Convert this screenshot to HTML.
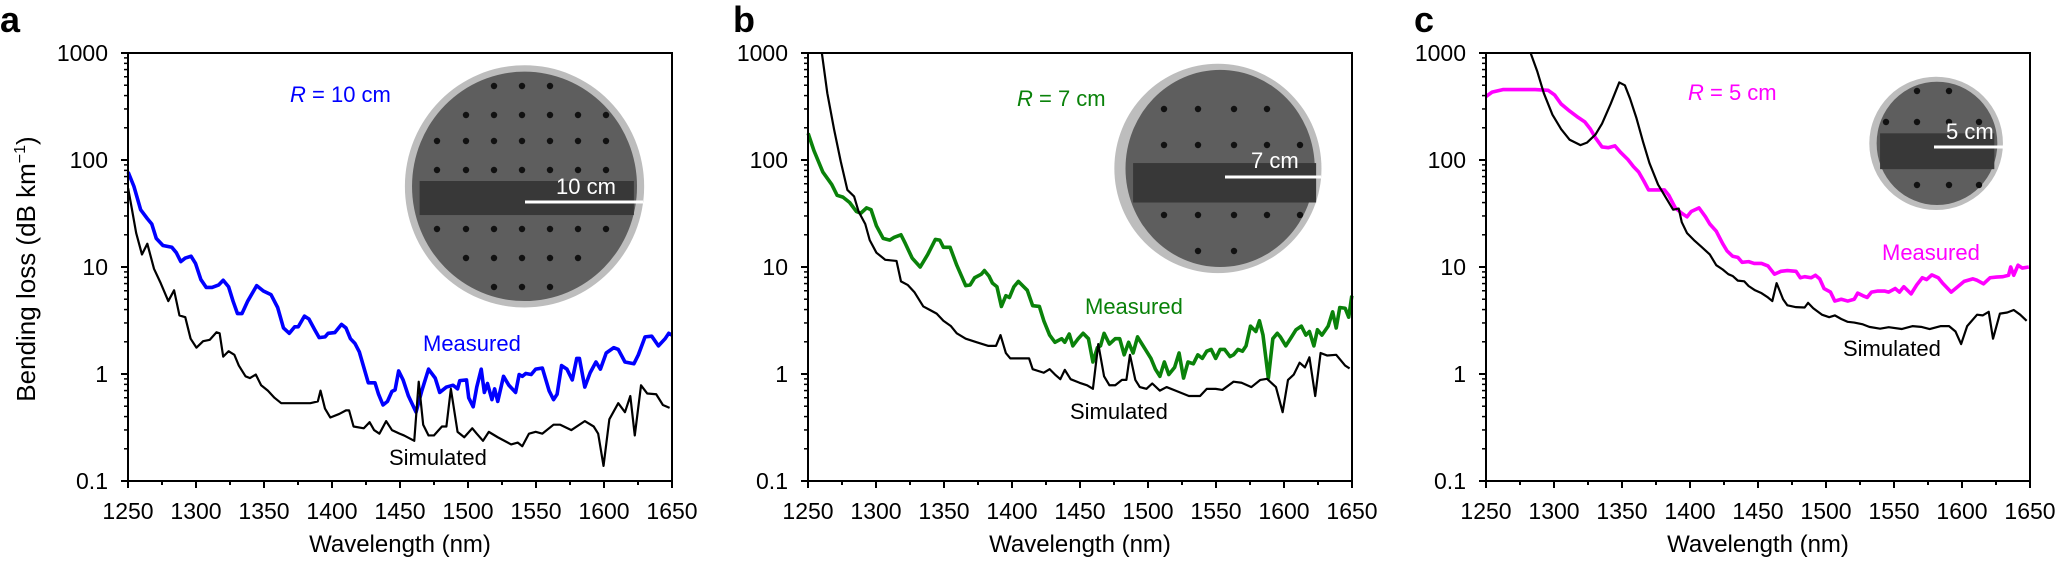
<!DOCTYPE html>
<html><head><meta charset="utf-8"><style>
html,body{margin:0;padding:0;background:#fff}
svg{display:block;font-family:"Liberation Sans",sans-serif}
.t{font-size:23px;fill:#000}
.ln{fill:none;stroke-width:2.2;vector-effect:non-scaling-stroke;stroke-linejoin:round}
.ms{fill:none;stroke-width:3.6;vector-effect:non-scaling-stroke;stroke-linejoin:round}
</style></head><body>
<svg id="s" width="2056" height="562" viewBox="0 0 2056 562" xmlns="http://www.w3.org/2000/svg">
<text x="0" y="32" font-size="36" font-weight="bold">a</text>
<text x="733" y="32" font-size="36" font-weight="bold">b</text>
<text x="1414" y="32" font-size="36" font-weight="bold">c</text>
<text transform="translate(35,269) rotate(-90)" text-anchor="middle" font-size="26">Bending loss (dB km<tspan dy="-10" font-size="16">−1</tspan><tspan dy="10">)</tspan></text>

<g transform="translate(0,0) scale(0.4464,0.3584)">
 <ellipse cx="1175" cy="520" rx="268" ry="338" fill="#bdbdbd"/>
 <ellipse cx="1175" cy="520" rx="252" ry="320" fill="#5e5e5e"/>
 <rect x="940" y="505" width="480" height="95" fill="#383838"/>
</g>
<g transform="translate(680,0) scale(0.4464,0.3584)">
 <ellipse cx="1205" cy="470" rx="232" ry="292" fill="#bdbdbd"/>
 <ellipse cx="1210" cy="470" rx="212" ry="275" fill="#5e5e5e"/>
 <rect x="1015" y="455" width="410" height="110" fill="#383838"/>
</g>
<g transform="translate(1380,0) scale(0.4311,0.3584)">
 <ellipse cx="1290" cy="400" rx="155" ry="186" fill="#bdbdbd"/>
 <ellipse cx="1292" cy="400" rx="140" ry="172" fill="#5e5e5e"/>
 <rect x="1160" y="372" width="265" height="100" fill="#383838"/>
</g>
<g id="dots"></g>
<line x1="525" y1="202" x2="643" y2="202" stroke="#fff" stroke-width="3"/>
<text x="556" y="194" font-size="22" fill="#fff">10 cm</text>
<line x1="1225" y1="177" x2="1321" y2="177" stroke="#fff" stroke-width="3"/>
<text x="1251" y="168" font-size="22" fill="#fff">7 cm</text>
<line x1="1934" y1="147" x2="2003" y2="147" stroke="#fff" stroke-width="3"/>
<text x="1946" y="139" font-size="22" fill="#fff">5 cm</text>

<g transform="scale(0.4464,0.3584)">
<polyline class="ms" stroke="#0000ff" points="287,480 300,520 315,585 330,610 340,625 350,665 365,685 385,690 395,705 405,730 415,720 428,715 438,735 450,780 462,802 475,802 490,795 500,782 512,800 522,840 532,875 542,875 555,840 575,797 590,812 607,822 622,858 635,915 648,930 660,912 668,912 682,882 692,890 705,920 715,942 728,940 735,930 750,928 765,905 775,915 785,945 795,958 805,982 815,1025 825,1068 840,1068 848,1100 858,1130 868,1120 878,1092 885,1088 893,1035 903,1060 915,1105 932,1150 945,1090 960,1030 975,1055 985,1095 1000,1080 1015,1075 1025,1085 1030,1062 1045,1060 1050,1110 1060,1135 1068,1080 1078,1030 1085,1095 1092,1070 1102,1115 1108,1085 1115,1120 1128,1050 1140,1075 1155,1095 1163,1045 1170,1050 1178,1042 1190,1045 1200,1030 1215,1027 1230,1090 1240,1115 1248,1100 1258,1020 1270,1030 1282,1060 1292,1000 1298,1000 1310,1080 1322,1040 1335,1010 1345,1030 1358,985 1375,970 1385,975 1400,1010 1420,1015 1430,990 1445,940 1460,938 1475,965 1490,945 1498,930 1505,935"/>
<polyline class="ln" stroke="#000" points="287,525 295,580 305,650 318,710 330,680 345,750 360,790 377,840 390,810 402,880 415,885 427,945 440,970 455,952 470,948 485,927 492,930 500,995 512,980 525,990 535,1020 550,1050 560,1055 573,1045 585,1075 600,1090 615,1110 630,1125 660,1125 695,1125 712,1120 718,1090 728,1140 740,1165 760,1155 775,1145 782,1145 792,1190 815,1195 828,1178 838,1200 850,1210 865,1175 878,1200 895,1210 905,1215 928,1230 938,1065 948,1185 960,1215 972,1215 990,1190 1000,1190 1010,1085 1025,1205 1040,1220 1058,1195 1068,1210 1082,1230 1095,1205 1115,1220 1145,1240 1160,1235 1170,1245 1185,1210 1200,1205 1215,1210 1240,1185 1255,1185 1280,1200 1310,1175 1330,1190 1340,1210 1352,1300 1365,1170 1385,1125 1400,1150 1412,1105 1422,1215 1436,1075 1450,1098 1470,1100 1485,1130 1500,1138"/>
</g>
<g transform="translate(680,0) scale(0.4464,0.3584)">
<polyline class="ms" stroke="#0a820a" points="287,372 300,420 320,480 340,515 352,545 365,550 380,565 395,590 405,595 418,580 428,585 440,630 455,665 470,670 480,662 495,655 505,680 520,720 538,745 555,710 572,668 582,670 590,690 605,690 620,740 640,797 650,795 660,775 675,765 682,755 692,770 700,790 710,800 720,855 730,825 738,830 748,800 758,785 770,800 778,810 790,853 805,855 815,895 828,935 840,955 855,945 862,955 872,932 880,965 892,945 903,930 915,945 925,1010 935,970 942,965 950,930 962,960 975,945 985,945 995,990 1005,955 1015,985 1025,940 1040,970 1055,1000 1065,1030 1075,1050 1085,1010 1095,1045 1108,1025 1118,985 1128,1055 1138,1010 1150,1015 1160,990 1170,1000 1180,980 1190,975 1200,1000 1210,975 1220,975 1232,995 1240,990 1250,975 1260,980 1268,965 1278,910 1290,925 1298,895 1306,935 1318,1055 1328,945 1338,930 1345,940 1357,965 1370,940 1380,920 1392,910 1402,935 1410,925 1420,965 1428,920 1438,935 1452,910 1462,870 1470,915 1478,858 1490,860 1498,885 1505,825"/>
<polyline class="ln" stroke="#000" points="318,150 330,260 345,360 360,450 375,530 390,548 400,590 415,625 425,670 440,705 460,725 485,728 495,785 510,795 525,815 545,855 560,865 575,875 590,895 607,910 620,930 640,945 665,955 690,965 708,965 718,935 730,985 740,1000 765,1000 782,1000 790,1030 815,1040 828,1030 840,1045 852,1058 862,1032 875,1058 895,1068 912,1075 925,1085 937,960 950,1050 962,1075 975,1075 990,1060 1000,1060 1008,990 1020,1060 1030,1080 1045,1085 1058,1070 1075,1090 1090,1080 1110,1090 1140,1105 1165,1105 1180,1085 1200,1085 1215,1088 1240,1065 1258,1068 1280,1080 1300,1060 1315,1057 1335,1080 1350,1150 1362,1060 1375,1045 1388,1012 1400,1025 1410,997 1423,1105 1435,985 1450,992 1470,990 1480,1005 1490,1020 1500,1028"/>
</g>
<g transform="translate(1380,0) scale(0.4311,0.3584)">
<polyline class="ms" stroke="#ff00ff" points="245,270 260,257 285,250 320,250 360,250 390,252 405,265 420,290 440,310 460,328 475,340 488,360 500,385 515,410 530,412 545,407 558,425 575,445 588,465 600,480 612,505 623,530 640,530 660,530 670,545 685,580 700,595 712,605 722,590 740,580 755,605 765,625 780,645 795,680 805,700 818,715 830,718 840,732 855,730 868,735 885,735 900,742 915,765 930,757 945,755 965,757 975,775 985,772 1000,775 1010,768 1020,778 1030,805 1045,815 1055,840 1070,835 1085,840 1100,835 1108,818 1120,825 1130,830 1140,815 1155,812 1170,812 1180,815 1195,805 1205,815 1215,800 1232,820 1245,795 1258,775 1268,780 1280,767 1295,775 1305,790 1325,815 1340,800 1355,785 1375,778 1385,782 1400,792 1415,775 1430,773 1445,772 1458,768 1463,745 1470,768 1480,740 1490,748 1505,745"/>
<polyline class="ln" stroke="#000" points="350,150 365,200 380,260 400,320 420,360 440,390 465,405 480,398 500,375 515,345 535,290 555,230 568,238 580,275 595,330 610,395 625,455 645,515 665,555 680,585 693,582 700,620 712,650 730,672 745,688 765,710 780,740 795,752 808,765 818,770 830,783 845,785 855,798 870,810 885,818 900,830 910,840 920,790 935,835 945,852 965,857 985,858 993,845 1005,860 1025,878 1042,885 1055,880 1070,890 1085,898 1100,900 1120,905 1135,912 1160,917 1180,913 1210,918 1235,910 1255,912 1275,918 1300,910 1320,910 1335,925 1348,960 1362,910 1385,878 1398,880 1412,870 1422,945 1438,875 1455,872 1470,865 1485,878 1500,895"/>
</g>

<g id="axes"></g>

<text x="290" y="102" font-size="22" fill="#0000ff"><tspan font-style="italic">R</tspan> = 10 cm</text>
<text x="423" y="351" font-size="22" fill="#0000ff">Measured</text>
<text x="389" y="465" font-size="22" fill="#000">Simulated</text>
<text x="1017" y="106" font-size="22" fill="#0a820a"><tspan font-style="italic">R</tspan> = 7 cm</text>
<text x="1085" y="314" font-size="22" fill="#0a820a">Measured</text>
<text x="1070" y="419" font-size="22" fill="#000">Simulated</text>
<text x="1688" y="100" font-size="22" fill="#ff00ff"><tspan font-style="italic">R</tspan> = 5 cm</text>
<text x="1882" y="260" font-size="22" fill="#ff00ff">Measured</text>
<text x="1843" y="356" font-size="22" fill="#000">Simulated</text>

<g class="t" text-anchor="end">
<text x="108" y="61">1000</text><text x="108" y="168">100</text><text x="108" y="275">10</text><text x="108" y="382">1</text><text x="108" y="489">0.1</text>
<text x="788" y="61">1000</text><text x="788" y="168">100</text><text x="788" y="275">10</text><text x="788" y="382">1</text><text x="788" y="489">0.1</text>
<text x="1466" y="61">1000</text><text x="1466" y="168">100</text><text x="1466" y="275">10</text><text x="1466" y="382">1</text><text x="1466" y="489">0.1</text>
</g>
<g class="t" text-anchor="middle">
<text x="128" y="519">1250</text><text x="196" y="519">1300</text><text x="264" y="519">1350</text><text x="332" y="519">1400</text><text x="400" y="519">1450</text><text x="468" y="519">1500</text><text x="536" y="519">1550</text><text x="604" y="519">1600</text><text x="672" y="519">1650</text>
<text x="808" y="519">1250</text><text x="876" y="519">1300</text><text x="944" y="519">1350</text><text x="1012" y="519">1400</text><text x="1080" y="519">1450</text><text x="1148" y="519">1500</text><text x="1216" y="519">1550</text><text x="1284" y="519">1600</text><text x="1352" y="519">1650</text>
<text x="1486" y="519">1250</text><text x="1554" y="519">1300</text><text x="1622" y="519">1350</text><text x="1690" y="519">1400</text><text x="1758" y="519">1450</text><text x="1826" y="519">1500</text><text x="1894" y="519">1550</text><text x="1962" y="519">1600</text><text x="2030" y="519">1650</text>
</g>
<g text-anchor="middle" font-size="24">
<text x="400" y="552">Wavelength (nm)</text>
<text x="1080" y="552">Wavelength (nm)</text>
<text x="1758" y="552">Wavelength (nm)</text>
</g>
</svg>
<script>
(function(){
var NS="http://www.w3.org/2000/svg",ax=document.getElementById("axes"),dg=document.getElementById("dots");
function L(x1,y1,x2,y2,w){var l=document.createElementNS(NS,"line");l.setAttribute("x1",x1);l.setAttribute("y1",y1);l.setAttribute("x2",x2);l.setAttribute("y2",y2);l.setAttribute("stroke","#000");l.setAttribute("stroke-width",w||2);ax.appendChild(l);}
function dots(cx,cy,r,xs,ys){xs.forEach(function(x){ys.forEach(function(y){if(Math.hypot(x-cx,y-cy)<r){var c=document.createElementNS(NS,"circle");c.setAttribute("cx",x);c.setAttribute("cy",y);c.setAttribute("r",3.2);c.setAttribute("fill","#111");dg.appendChild(c);}});});}
dots(525,186,108,[437,466,494,522,550,578,606],[86,115,141,170,229,258,287]);
dots(1220,168,94,[1164,1198,1234,1267,1300],[109,145,215,251]);
dots(1937,143,60,[1886,1917,1949,1979],[91,122,185]);
var P=[[128,672],[808,1352],[1486,2030]],T=53,B=481,D=107;
P.forEach(function(p){
 var l=p[0],r=p[1];
 var rc=document.createElementNS(NS,"rect");rc.setAttribute("x",l);rc.setAttribute("y",T);rc.setAttribute("width",r-l);rc.setAttribute("height",B-T);rc.setAttribute("fill","none");rc.setAttribute("stroke","#000");rc.setAttribute("stroke-width",2);ax.appendChild(rc);
 for(var d=0;d<=4;d++){var y=B-d*D;L(l-7,y,l,y,2);
  if(d<4)for(var k=2;k<=9;k++){var yy=y-Math.log10(k)*D;L(l-4,yy,l,yy,1.5);}}
 for(var i=0;i<=16;i++){var x=l+(r-l)*i/16;L(x,B,x,B+(i%2?4:7),2);}
});
})();
</script>
</body></html>
